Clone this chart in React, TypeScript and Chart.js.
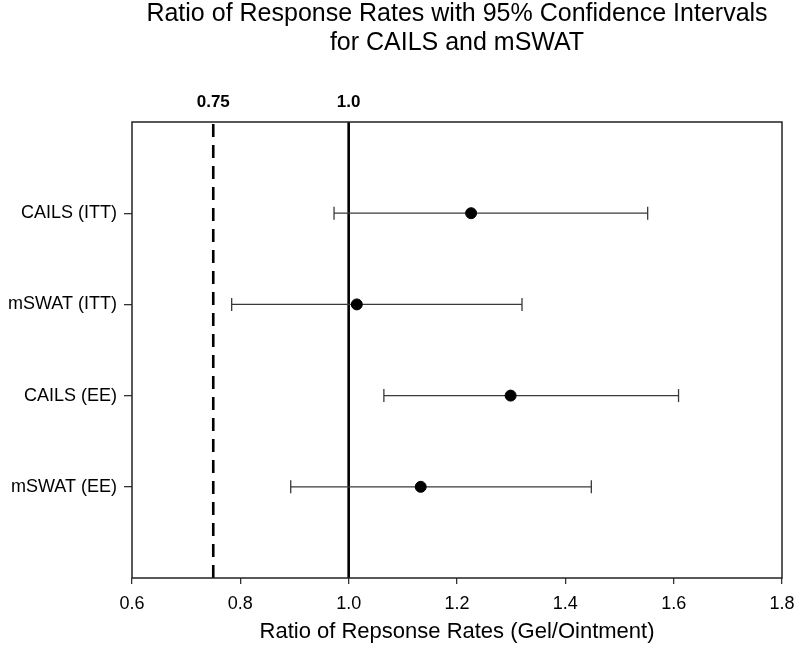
import React, { useEffect, useRef } from "react";
import { Chart, registerables } from "chart.js";

Chart.register(...registerables);

const FONT = "'Liberation Sans', Arial, Helvetica, sans-serif";

const chartTitle = [
  "Ratio of Response Rates with 95% Confidence Intervals",
  "for CAILS and mSWAT",
];
const xAxisTitle = "Ratio of Repsonse Rates (Gel/Ointment)";

const rowLabels = ["CAILS (ITT)", "mSWAT (ITT)", "CAILS (EE)", "mSWAT (EE)"];
const rowPositions = [4, 3, 2, 1];
const estimates = [1.226, 1.015, 1.299, 1.133];
const lowerCI = [0.973, 0.784, 1.065, 0.893];
const upperCI = [1.552, 1.32, 1.609, 1.448];

const refValues = [0.75, 1.0];
const refLabels = ["0.75", "1.0"];
const refDashes = [[13, 8], []];

const xTickValues = [0.6, 0.8, 1.0, 1.2, 1.4, 1.6, 1.8];
const xTickLabels = ["0.6", "0.8", "1.0", "1.2", "1.4", "1.6", "1.8"];

const boxPlugin = {
  id: "plotBox",
  afterDatasetsDraw(chart: any) {
    const { ctx, chartArea } = chart;
    const { left, top, right, bottom } = chartArea;
    ctx.save();
    ctx.strokeStyle = "#222";
    ctx.lineWidth = 1.5;
    ctx.strokeRect(left, top, right - left, bottom - top);
    ctx.restore();
  },
};

export default function App() {
  const canvasRef = useRef<HTMLCanvasElement | null>(null);

  useEffect(() => {
    document.body.style.margin = "0";
    const canvas = canvasRef.current;
    if (!canvas) return;

    const pointDataset = {
      label: "Estimate",
      data: estimates.map((v, i) => ({ x: v, y: rowPositions[i] })),
      pointRadius: 5.5,
      pointHoverRadius: 5.5,
      pointStyle: "circle",
      backgroundColor: "#000",
      borderColor: "#000",
      showLine: false,
      order: 0,
    };

    const ciDatasets = rowLabels.map((label, i) => ({
      label,
      data: [
        { x: lowerCI[i], y: rowPositions[i] },
        { x: upperCI[i], y: rowPositions[i] },
      ],
      showLine: true,
      borderColor: "#3a3a3a",
      borderWidth: 1.3,
      pointStyle: "line",
      pointRadius: 6.5,
      pointHoverRadius: 6.5,
      pointRotation: 90,
      pointBorderColor: "#3a3a3a",
      pointBorderWidth: 1.3,
      order: 1,
    }));

    const refDatasets = refValues.map((v, i) => ({
      label: refLabels[i],
      data: [
        { x: v, y: 0 },
        { x: v, y: 5 },
      ],
      showLine: true,
      borderColor: "#000",
      borderWidth: 2.6,
      borderDash: refDashes[i],
      pointRadius: 0,
      pointHoverRadius: 0,
      order: 2,
    }));

    const chart = new Chart(canvas, {
      type: "scatter",
      data: { datasets: [pointDataset, ...ciDatasets, ...refDatasets] as any },
      options: {
        animation: false,
        responsive: true,
        maintainAspectRatio: false,
        font: { family: FONT },
        layout: { padding: { left: 0, right: 18, top: 0, bottom: 0 } },
        plugins: {
          legend: { display: false },
          tooltip: { enabled: false },
          title: {
            display: true,
            fullSize: false,
            text: chartTitle,
            color: "#000",
            font: { family: FONT, size: 25, weight: "normal", lineHeight: 1.15 },
            padding: { top: 0, bottom: 0 },
          },
        },
        scales: {
          x: {
            type: "linear",
            position: "bottom",
            min: 0.6,
            max: 1.8,
            afterBuildTicks: (s: any) => {
              s.ticks = xTickValues.map((v) => ({ value: v }));
            },
            afterFit: (s: any) => {
              s.height = 81;
              s.paddingLeft = 0;
              s.paddingRight = 0;
            },
            ticks: {
              callback: (v: any) => {
                const k = xTickValues.indexOf(v);
                return k >= 0 ? xTickLabels[k] : "";
              },
              color: "#000",
              font: { family: FONT, size: 18 },
              padding: 9,
              autoSkip: false,
              maxRotation: 0,
            },
            grid: {
              display: true,
              drawOnChartArea: false,
              drawTicks: true,
              tickLength: 6,
              color: "#333",
              lineWidth: 1.3,
            },
            border: { display: false },
            title: {
              display: true,
              text: xAxisTitle,
              color: "#000",
              font: { family: FONT, size: 22 },
              padding: { top: 0, bottom: 14 },
            },
          },
          x2: {
            type: "linear",
            position: "top",
            min: 0.6,
            max: 1.8,
            afterBuildTicks: (s: any) => {
              s.ticks = refValues.map((v) => ({ value: v }));
            },
            afterFit: (s: any) => {
              s.height = 122 - 57.5;
              s.paddingLeft = 0;
              s.paddingRight = 0;
            },
            ticks: {
              callback: (v: any) => {
                const k = refValues.indexOf(v);
                return k >= 0 ? refLabels[k] : "";
              },
              color: "#000",
              font: { family: FONT, size: 17, weight: "bold" },
              padding: 9,
              autoSkip: false,
              maxRotation: 0,
            },
            grid: { display: false, drawTicks: false },
            border: { display: false },
          },
          y: {
            type: "linear",
            position: "left",
            min: 0,
            max: 5,
            afterBuildTicks: (s: any) => {
              s.ticks = rowPositions.map((v) => ({ value: v }));
            },
            afterFit: (s: any) => {
              s.width = 132;
            },
            ticks: {
              callback: (v: any) => {
                const k = rowPositions.indexOf(v);
                return k >= 0 ? rowLabels[k] : "";
              },
              color: "#000",
              font: { family: FONT, size: 18 },
              padding: 7,
              autoSkip: false,
            },
            grid: {
              display: true,
              drawOnChartArea: false,
              drawTicks: true,
              tickLength: 8,
              color: "#333",
              lineWidth: 1.3,
            },
            border: { display: false },
          },
        },
      } as any,
      plugins: [boxPlugin],
    });

    return () => {
      chart.destroy();
    };
  }, []);

  return (
    <div style={{ width: 800, height: 659, position: "relative" }}>
      <canvas ref={canvasRef} style={{ display: "block" }} />
    </div>
  );
}
